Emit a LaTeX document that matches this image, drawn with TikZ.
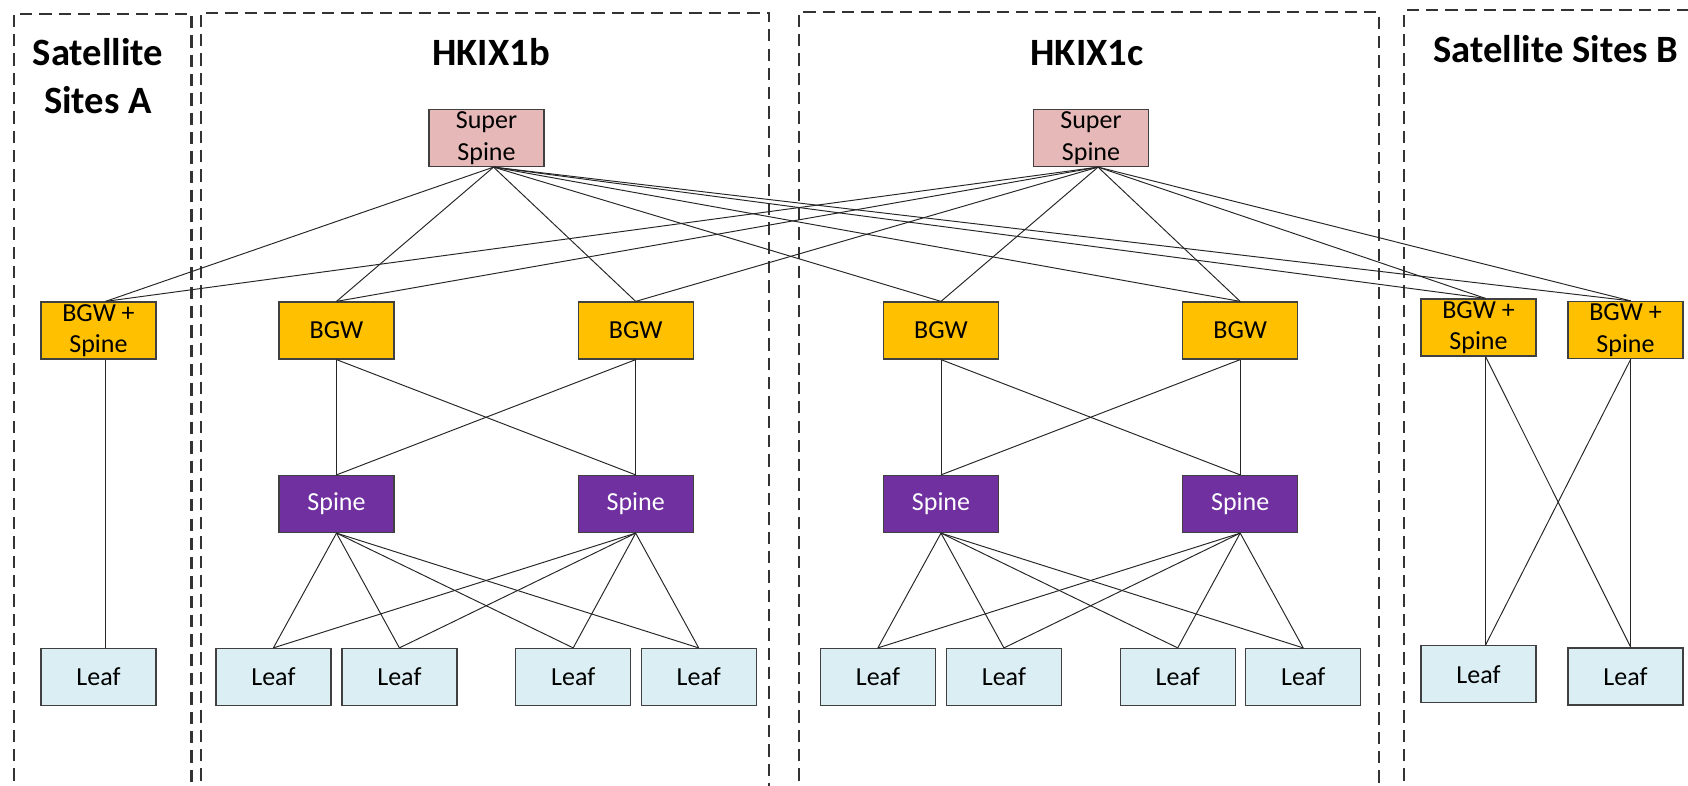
\documentclass[tikz,border=0pt]{standalone}
\usepackage{fontspec}
\setmainfont{Carlito}
\definecolor{sspinecol}{HTML}{E6B9B8}
\definecolor{bgwcol}{HTML}{FFC000}
\definecolor{spinecol}{HTML}{7030A0}
\definecolor{leafcol}{HTML}{DAEEF3}

\begin{document}
\begin{tikzpicture}[x=0.02cm,y=-0.02cm,
	box/.style={draw=black!75,line width=0.7pt,minimum width=2.3cm,minimum height=1.14cm,inner sep=0pt,align=center,font=\fontsize{14.8}{18}\selectfont},
	sspine/.style={box,fill=sspinecol},
	bgw/.style={box,fill=bgwcol},
	spn/.style={box,fill=spinecol,text=white},
	leaf/.style={box,fill=leafcol},
	site/.style={draw=black!80,line width=1.2pt,dash pattern=on 7pt off 4pt},
	title/.style={font=\fontsize{22}{27.3}\selectfont\bfseries,align=center},
	link/.style={draw=black!85,line width=0.55pt}]
	\useasboundingbox (0,0) rectangle (1688,785);

	% site frames, open at the bottom
	\draw[site] (14,800) |- (191.5,13.6) -- (191.5,800);
	\draw[site] (201,800) |- (769.4,12.7) -- (769.4,800);
	\draw[site] (798.7,800) |- (1378.9,12.3) -- (1378.9,800);
	\draw[site] (1404.3,800) |- (1700,10);

	\node[title,anchor=base] (TA) at (98,113.3) {Satellite\\Sites A};
	\node[title,anchor=base] (TB) at (491,65) {HKIX1b};
	\node[title,anchor=base] (TC) at (1087,65) {HKIX1c};
	\node[title,anchor=base] (TD) at (1556,62) {Satellite Sites B};

	\node[sspine] (SSb) at (486.5,138) {Super\\Spine};
	\node[sspine] (SSc) at (1091,138) {Super\\Spine};

	\node[bgw] (BGWa) at (98.5,330.5) {BGW +\\Spine};
	\node[leaf] (Leafa) at (98.5,677) {Leaf};

	\foreach \p/\dx in {b/0,c/604.5} {
		\node[bgw] (BGW\p1) at (336.5+\dx,330.5) {BGW};
		\node[bgw] (BGW\p2) at (635.7+\dx,330.5) {BGW};
		\node[spn] (SP\p1) at (336.5+\dx,504) {Spine};
		\node[spn] (SP\p2) at (635.7+\dx,504) {Spine};
		\foreach \x [count=\n] in {273.4,399.4,573.2,698.7}
			\node[leaf] (Leaf\p\n) at (\x+\dx,677) {Leaf};
	}

	\node[bgw] (BGWd1) at (1478.5,327.5) {BGW +\\Spine};
	\node[bgw] (BGWd2) at (1625.5,330) {BGW +\\Spine};
	\node[leaf] (Leafd1) at (1478.5,674.2) {Leaf};
	\node[leaf] (Leafd2) at (1625.5,676.5) {Leaf};

	% super spines to every border gateway
	\foreach \s in {b,c}
		\foreach \t/\o in {a/4pt,b1/0pt,b2/0pt,c1/0pt,c2/0pt,d1/4pt,d2/3pt}
			\path[link] ([xshift=4pt]SS\s.south) edge ([xshift=\o]BGW\t.north);

	\foreach \p in {b,c}
		\foreach \i in {1,2} {
			\path[link] (BGW\p\i.south) edge (SP\p1.north) edge (SP\p2.north);
			\foreach \n in {1,...,4}
				\path[link] (SP\p\i.south) edge (Leaf\p\n.north);
		}

	\path[link] ([xshift=4pt]BGWa.south) edge ([xshift=4pt]Leafa.north);
	\path[link] ([xshift=4pt]BGWd1.south) edge ([xshift=4pt]Leafd1.north) edge ([xshift=3pt]Leafd2.north);
	\path[link] ([xshift=3pt]BGWd2.south) edge ([xshift=3pt]Leafd2.north) edge ([xshift=4pt]Leafd1.north);
\end{tikzpicture}
\end{document}
